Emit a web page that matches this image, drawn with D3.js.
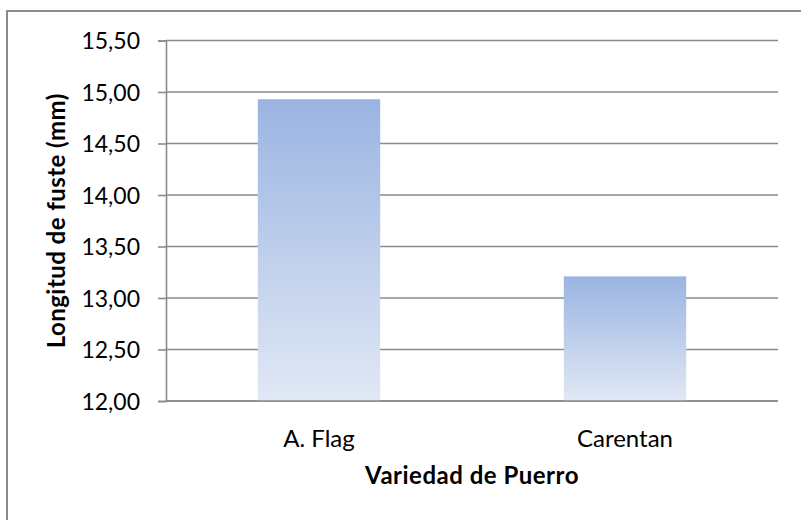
<!DOCTYPE html>
<html>
<head>
<meta charset="utf-8">
<script src="https://cdn.jsdelivr.net/npm/d3@7"></script>
<style>
  html, body { margin: 0; padding: 0; background: #ffffff; }
  svg { display: block; }
  text { font-family: Lato, "Open Sans", sans-serif; fill: #000; }
</style>
</head>
<body>
<svg id="chart" width="801" height="520"></svg>
<script>
// Leek variety stem length
const categories = ["A. Flag", "Carentan"];
const values = [14.93, 13.21];
const yTicks = [12.0, 12.5, 13.0, 13.5, 14.0, 14.5, 15.0, 15.5];
const yTitle = "Longitud de fuste (mm)";
const xTitle = "Variedad de Puerro";

const svg = d3.select("#chart");
const plot = { left: 166, right: 778, top: 40.5, bottom: 401 };

const x = d3.scaleBand()
  .domain(categories)
  .range([plot.left, plot.right])
  .paddingInner(0.6)
  .paddingOuter(0.3);

const y = d3.scaleLinear()
  .domain([12, 15.5])
  .range([plot.bottom, plot.top]);

const fmt = v => d3.format(".2f")(v).replace(".", ",");
const gridColor = "#8a8a8a";

// outer chart frame
svg.append("rect")
  .attr("x", 7).attr("y", 11)
  .attr("width", 810).attr("height", 540)
  .attr("fill", "#fff")
  .attr("stroke", "#8c8c8c")
  .attr("stroke-width", 2);

// bar gradient
const defs = svg.append("defs");
const grad = defs.append("linearGradient")
  .attr("id", "barGrad")
  .attr("x1", 0).attr("y1", 0).attr("x2", 0).attr("y2", 1);
grad.append("stop").attr("offset", "0%").attr("stop-color", "#9ab4e2");
grad.append("stop").attr("offset", "100%").attr("stop-color", "#e1e8f5");

// horizontal gridlines
svg.append("g")
  .attr("class", "grid")
  .selectAll("line")
  .data(yTicks)
  .join("line")
  .attr("x1", plot.left).attr("x2", plot.right)
  .attr("y1", d => y(d)).attr("y2", d => y(d))
  .attr("stroke", gridColor)
  .attr("stroke-width", 1.6);

// value axis
const yAxis = d3.axisLeft(y)
  .tickValues(yTicks)
  .tickSize(8)
  .tickFormat(fmt);

const gy = svg.append("g")
  .attr("transform", `translate(${plot.left},0)`)
  .call(yAxis);
gy.select(".domain").attr("stroke", gridColor).attr("stroke-width", 1.6);
gy.selectAll(".tick line").attr("stroke", gridColor).attr("stroke-width", 1.6);
gy.selectAll(".tick text")
  .attr("x", -26)
  .attr("dy", "0.36em")
  .style("font-size", "23px")
  .style("font-family", "Lato, sans-serif")
  .attr("fill", "#000");

// bars
svg.append("g")
  .selectAll("rect")
  .data(categories.map((c, i) => ({ c, v: values[i] })))
  .join("rect")
  .attr("x", d => x(d.c))
  .attr("width", x.bandwidth())
  .attr("y", d => y(d.v))
  .attr("height", d => y(12) - y(d.v))
  .attr("fill", "url(#barGrad)");

// baseline drawn over the bars
svg.append("line")
  .attr("x1", plot.left).attr("x2", plot.right)
  .attr("y1", y(12)).attr("y2", y(12))
  .attr("stroke", gridColor).attr("stroke-width", 1.6);

// category labels
const xAxis = d3.axisBottom(x).tickSize(0).tickPadding(0);
const gx = svg.append("g")
  .attr("transform", `translate(0,${plot.bottom})`)
  .call(xAxis);
gx.select(".domain").remove();
gx.selectAll(".tick text")
  .attr("y", 46)
  .attr("dy", 0)
  .style("font-size", "24px")
  .style("font-family", "Lato, sans-serif")
  .attr("fill", "#000");

// axis titles
svg.append("text")
  .attr("x", (plot.left + plot.right) / 2)
  .attr("y", 484)
  .attr("text-anchor", "middle")
  .style("font-size", "24px")
  .style("font-weight", "bold")
  .style("letter-spacing", "0.5px")
  .text(xTitle);

svg.append("text")
  .attr("transform", `translate(65,${(plot.top + plot.bottom) / 2}) rotate(-90)`)
  .attr("text-anchor", "middle")
  .style("font-size", "24px")
  .style("font-weight", "bold")
  .style("letter-spacing", "0.45px")
  .text(yTitle);
</script>
</body>
</html>
